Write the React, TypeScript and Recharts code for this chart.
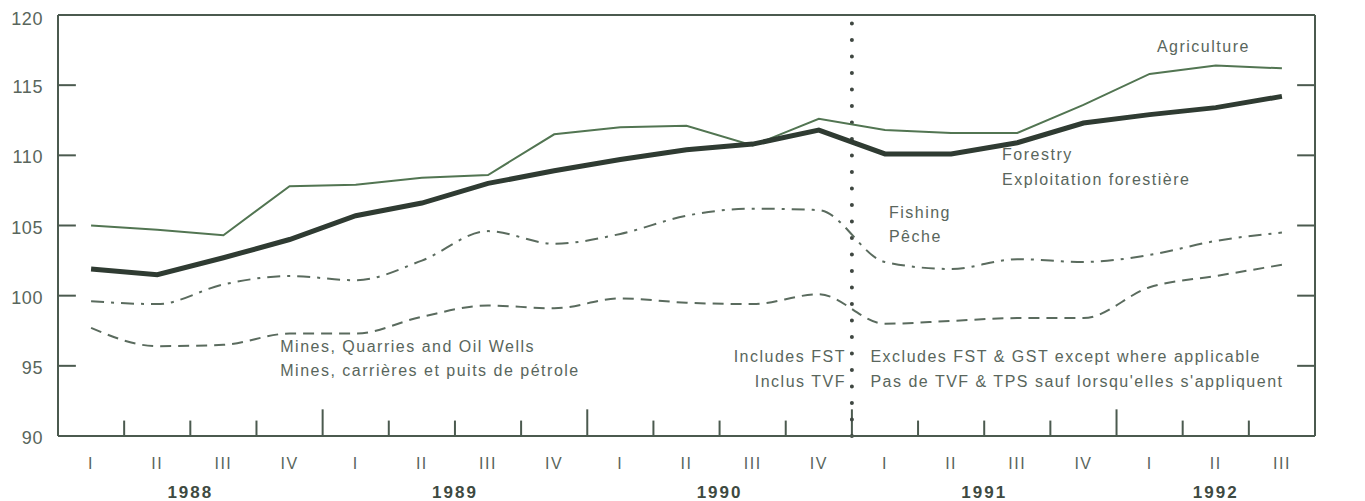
import { LineChart, Line, XAxis, YAxis, ReferenceLine, ReferenceDot } from "recharts";

const quarters = ["I", "II", "III", "IV", "I", "II", "III", "IV", "I", "II", "III", "IV", "I", "II", "III", "IV", "I", "II", "III"];
const years = [1988, 1988, 1988, 1988, 1989, 1989, 1989, 1989, 1990, 1990, 1990, 1990, 1991, 1991, 1991, 1991, 1992, 1992, 1992];

const agriculture = [105.0, 104.7, 104.3, 107.8, 107.9, 108.4, 108.6, 111.5, 112.0, 112.1, 110.7, 112.6, 111.8, 111.6, 111.6, 113.6, 115.8, 116.4, 116.2];
const forestry = [101.9, 101.5, 102.7, 104.0, 105.7, 106.6, 108.0, 108.9, 109.7, 110.4, 110.8, 111.8, 110.1, 110.1, 110.9, 112.3, 112.9, 113.4, 114.2];
const fishing = [99.6, 99.4, 100.8, 101.4, 101.1, 102.5, 104.6, 103.7, 104.4, 105.7, 106.2, 106.1, 102.4, 101.9, 102.6, 102.4, 102.9, 103.9, 104.5];
const mines = [97.7, 96.4, 96.5, 97.3, 97.3, 98.5, 99.3, 99.1, 99.8, 99.5, 99.4, 100.1, 98.0, 98.2, 98.4, 98.4, 100.6, 101.4, 102.2];

const yTicks = [90, 95, 100, 105, 110, 115, 120];
const lastWithFST = 11; // 1990 IV, last quarter that includes FST

const data = quarters.map((q, i) => ({
  i,
  q,
  agriculture: agriculture[i],
  forestry: forestry[i],
  fishing: fishing[i],
  mines: mines[i],
}));

const yearList = Array.from(new Set(years));
const yearCenters = yearList.map((yr) => {
  const idx = years.map((y, i) => (y === yr ? i : -1)).filter((i) => i >= 0);
  return idx.reduce((a, b) => a + b, 0) / idx.length;
});
const boundaries = quarters.slice(1).map((_, k) => ({ x: k + 0.5, year: years[k] !== years[k + 1] }));

const INK = "#4b5a4f";
const TEXT = "#59665c";
const FONT = "'Liberation Sans', Arial, sans-serif";

const YTick = ({ x, y, payload, anchor, shift }: any) => (
  <text x={x + shift} y={y} dy={8} textAnchor={anchor} fill={TEXT} fontFamily={FONT} fontSize={18} letterSpacing={0.6}>
    {payload.value}
  </text>
);

const QuarterTick = ({ x, y, payload }: any) => (
  <text x={x} y={y} dy={33} textAnchor="middle" fill={TEXT} fontFamily={FONT} fontSize={16} letterSpacing={1.5}>
    {quarters[payload.value]}
  </text>
);

const YearTick = ({ x, y, payload }: any) => (
  <text x={x} y={y} dy={32} textAnchor="middle" fill="#3e4a41" fontFamily={FONT} fontSize={17} fontWeight="bold" letterSpacing={2}>
    {yearList[yearCenters.indexOf(payload.value)]}
  </text>
);

const note = (value: string, anchor: "start" | "end" = "start") => ({
  content: (p: any) => (
    <text
      x={p.viewBox.x}
      y={p.viewBox.y}
      dy={5}
      textAnchor={anchor}
      fill={TEXT}
      fontFamily={FONT}
      fontSize={16}
      letterSpacing={1.5}
    >
      {value}
    </text>
  ),
});

const dotProps = { r: 0, fill: "none", stroke: "none", xAxisId: "q", yAxisId: "left", ifOverflow: "visible" as const };

export default function App() {
  return (
    <LineChart width={1349} height={493} data={data} margin={{ top: 7, right: 0, bottom: 0, left: 0 }}>
      <XAxis
        xAxisId="q"
        dataKey="i"
        type="number"
        domain={[-0.5, 18.5]}
        ticks={quarters.map((_, i) => i)}
        height={30}
        tickSize={0}
        tickMargin={0}
        tickLine={false}
        axisLine={{ stroke: INK, strokeWidth: 2 }}
        tick={<QuarterTick />}
        allowDataOverflow
      />
      <XAxis
        xAxisId="yr"
        dataKey="i"
        type="number"
        domain={[-0.5, 18.5]}
        ticks={yearCenters}
        height={35}
        tickSize={0}
        tickMargin={0}
        tickLine={false}
        axisLine={false}
        tick={<YearTick />}
        allowDataOverflow
      />
      <YAxis
        yAxisId="left"
        domain={[90, 120]}
        ticks={yTicks}
        width={50}
        tickSize={0}
        tickMargin={0}
        tickLine={false}
        axisLine={{ stroke: INK, strokeWidth: 2 }}
        tick={<YTick anchor="end" shift={-15} />}
      />
      <YAxis
        yAxisId="right"
        orientation="right"
        domain={[90, 120]}
        ticks={yTicks}
        width={42}
        tickSize={0}
        tickMargin={0}
        tickLine={false}
        axisLine={{ stroke: INK, strokeWidth: 2 }}
        tick={<YTick anchor="end" shift={43} />}
      />

      <ReferenceLine xAxisId="q" yAxisId="left" y={120} stroke={INK} strokeWidth={2} />

      {yTicks.slice(1, -1).map((t) => (
        <ReferenceLine
          key={"l" + t}
          xAxisId="q"
          yAxisId="left"
          segment={[{ x: -0.5, y: t }, { x: -0.23, y: t }]}
          stroke={INK}
          strokeWidth={2}
        />
      ))}
      {yTicks.slice(1, -1).map((t) => (
        <ReferenceLine
          key={"r" + t}
          xAxisId="q"
          yAxisId="left"
          segment={[{ x: 18.23, y: t }, { x: 18.5, y: t }]}
          stroke={INK}
          strokeWidth={2}
        />
      ))}
      {boundaries.map((b) => (
        <ReferenceLine
          key={"b" + b.x}
          xAxisId="q"
          yAxisId="left"
          segment={[{ x: b.x, y: 90 }, { x: b.x, y: b.year ? 91.9 : 91.1 }]}
          stroke={INK}
          strokeWidth={2}
        />
      ))}

      <ReferenceLine
        xAxisId="q"
        yAxisId="left"
        x={lastWithFST + 0.5}
        stroke="#3f4741"
        strokeWidth={4}
        strokeLinecap="round"
        strokeDasharray="0 16.5"
      />

      <Line xAxisId="q" yAxisId="left" dataKey="mines" type="monotone" stroke="#5a6b5e" strokeWidth={2} strokeDasharray="11 7" dot={false} isAnimationActive={false} />
      <Line xAxisId="q" yAxisId="left" dataKey="fishing" type="monotone" stroke="#5a6b5e" strokeWidth={2} strokeDasharray="13 7 3 7" dot={false} isAnimationActive={false} />
      <Line xAxisId="q" yAxisId="left" dataKey="agriculture" type="linear" stroke="#527552" strokeWidth={2} dot={false} isAnimationActive={false} />
      <Line xAxisId="q" yAxisId="left" dataKey="forestry" type="linear" stroke="#2f3b32" strokeWidth={5} dot={false} isAnimationActive={false} />

      <ReferenceDot {...dotProps} x={16.11} y={117.72} label={note("Agriculture")} />
      <ReferenceDot {...dotProps} x={13.77} y={110.02} label={note("Forestry")} />
      <ReferenceDot {...dotProps} x={13.77} y={108.24} label={note("Exploitation forestière")} />
      <ReferenceDot {...dotProps} x={12.06} y={105.89} label={note("Fishing")} />
      <ReferenceDot {...dotProps} x={12.06} y={104.18} label={note("Pêche")} />
      <ReferenceDot {...dotProps} x={2.86} y={96.35} label={note("Mines, Quarries and Oil Wells")} />
      <ReferenceDot {...dotProps} x={2.86} y={94.63} label={note("Mines, carrières et puits de pétrole")} />
      <ReferenceDot {...dotProps} x={11.41} y={95.63} label={note("Includes FST", "end")} />
      <ReferenceDot {...dotProps} x={11.41} y={93.85} label={note("Inclus TVF", "end")} />
      <ReferenceDot {...dotProps} x={11.78} y={95.63} label={note("Excludes FST & GST except where applicable")} />
      <ReferenceDot {...dotProps} x={11.78} y={93.85} label={note("Pas de TVF & TPS sauf lorsqu'elles s'appliquent")} />
    </LineChart>
  );
}
